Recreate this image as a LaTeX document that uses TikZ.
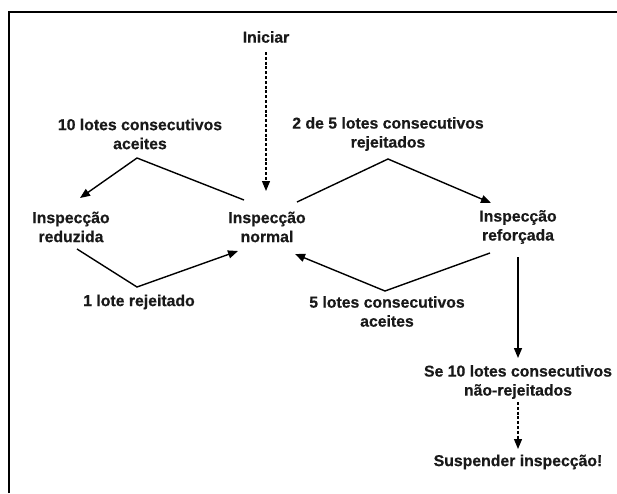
\documentclass[tikz,border=0pt]{standalone}
\usepackage{fontspec}
\setmainfont{Liberation Sans}[BoldFeatures={FakeBold=0.5}]
\usetikzlibrary{arrows.meta}
\begin{document}
\begin{tikzpicture}[x=1pt,y=-1pt,
  lbl/.style={font=\fontsize{15.8}{19}\selectfont\bfseries, align=center, inner sep=0pt, text=black!90},
  conn/.style={line width=1.4pt, -{Triangle[length=10pt,width=8pt]}},
  dconn/.style={line width=1.2pt, dash pattern=on 3pt off 1.8pt, -{Triangle[length=10pt,width=8pt]}}]
\useasboundingbox (0,0) rectangle (617,493);
\fill[white] (0,0) rectangle (617,493);
\draw[line width=2.6pt] (9,493) -- (9,12) -- (617,12);

\node[lbl] (ini) at (266,37) {Iniciar};
\node[lbl] (l10) at (140,134) {10 lotes consecutivos\\aceites};
\node[lbl] (l25) at (388,134) {2 de 5 lotes consecutivos\\rejeitados};
\node[lbl] (red) at (71,227) {Inspecção\\reduzida};
\node[lbl] (nor) at (267,227) {Inspecção\\normal};
\node[lbl] (ref) at (518,227) {Inspecção\\reforçada};
\node[lbl] (l1) at (139,302) {1 lote rejeitado};
\node[lbl] (l5) at (387,311.5) {5 lotes consecutivos\\aceites};
\node[lbl] (se) at (518,382) {Se 10 lotes consecutivos\\não-rejeitados};
\node[lbl] (sus) at (518,462) {Suspender inspecção!};

\coordinate (is) at (266,52);
\coordinate (ie) at (266,191);
\coordinate (a1) at (244,200);
\coordinate (p1) at (137,158);
\coordinate (t1) at (80,198);
\coordinate (a2) at (77,249);
\coordinate (p2) at (137,287);
\coordinate (t2) at (238,251);
\coordinate (a3) at (297,202);
\coordinate (p3) at (388,159);
\coordinate (t3) at (491,203);
\coordinate (a4) at (490,253);
\coordinate (p4) at (385,291);
\coordinate (t4) at (295,254);
\coordinate (rs) at (518,257);
\coordinate (re) at (518,358);
\coordinate (ds) at (518,402);
\coordinate (de) at (518,449);

\draw[dconn] (is) -- (ie);
\draw[conn] (a1) -- (p1) -- (t1);
\draw[conn] (a2) -- (p2) -- (t2);
\draw[conn] (a3) -- (p3) -- (t3);
\draw[conn] (a4) -- (p4) -- (t4);
\draw[conn] (rs) -- (re);
\draw[dconn] (ds) -- (de);
\end{tikzpicture}
\end{document}
